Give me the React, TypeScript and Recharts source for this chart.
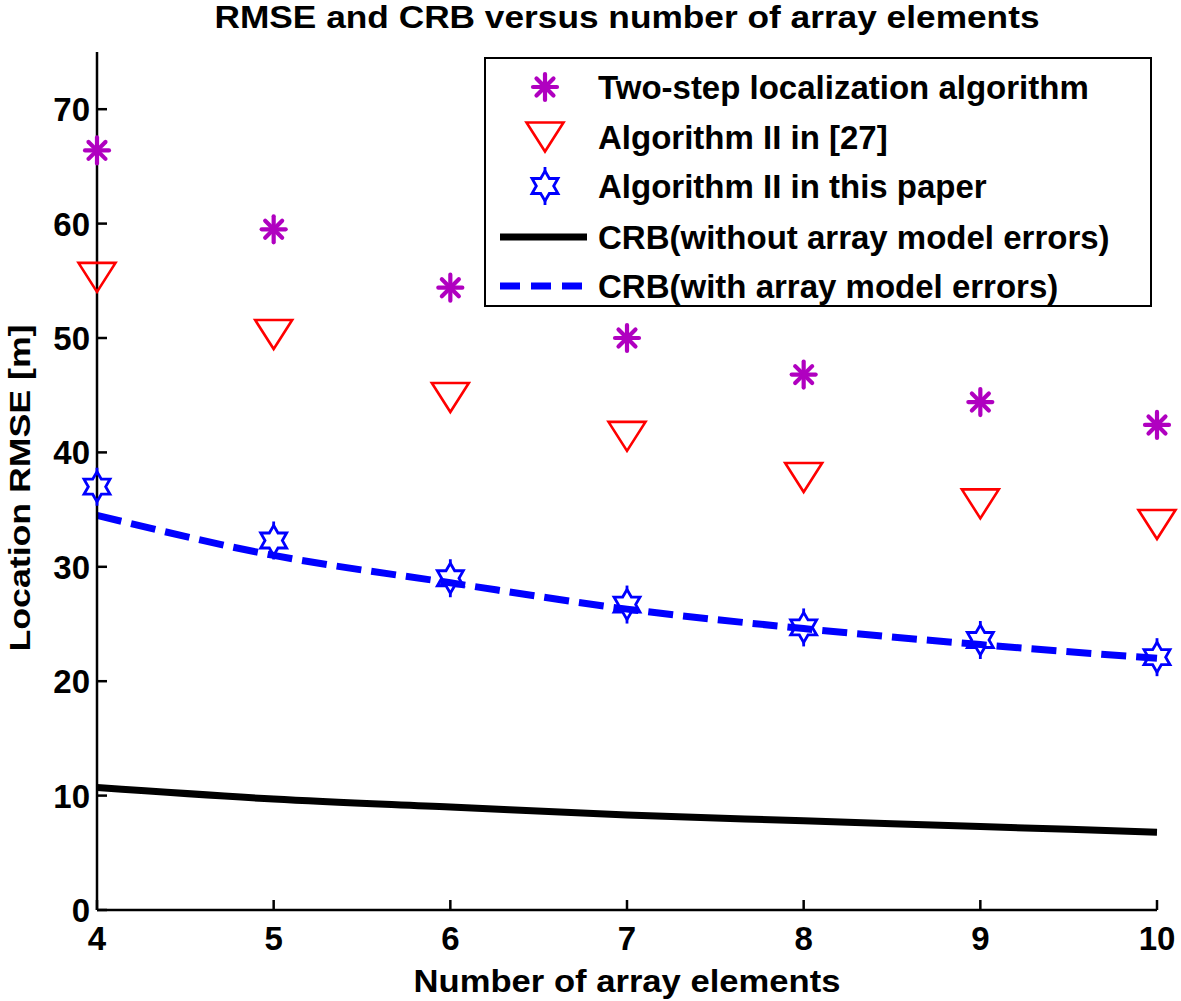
import React from "react";
import { ComposedChart, Legend, Line, XAxis, YAxis } from "recharts";

// number of array elements on the x axis
const elementCounts = [4, 5, 6, 7, 8, 9, 10];

// location RMSE [m] for each method
const twoStepRmse = [66.4, 59.5, 54.4, 50.0, 46.8, 44.4, 42.4];
const ref27Rmse = [55.3, 50.3, 44.8, 41.4, 37.8, 35.5, 33.7];
const paperRmse = [37.0, 32.3, 29.0, 26.7, 24.7, 23.6, 22.1];
const crbNoErrors = [10.7, 9.7, 9.0, 8.3, 7.8, 7.3, 6.8];
const crbWithErrors = [34.5, 31.0, 28.6, 26.3, 24.6, 23.2, 22.0];

const yTicks = [0, 10, 20, 30, 40, 50, 60, 70];

const legendLabels = [
  "Two-step localization algorithm",
  "Algorithm II in [27]",
  "Algorithm II in this paper",
  "CRB(without array model errors)",
  "CRB(with array model errors)",
];

const FONT = "'Liberation Sans', Arial, Helvetica, sans-serif";
const MAGENTA = "#b000c0";
const RED = "#ff0000";
const BLUE = "#0000ff";

const rows = elementCounts.map((n, i) => ({
  n,
  twoStep: twoStepRmse[i],
  ref27: ref27Rmse[i],
  paper: paperRmse[i],
  crbNo: crbNoErrors[i],
  crbErr: crbWithErrors[i],
}));

function Asterisk({ cx, cy, r = 12 }: { cx: number; cy: number; r?: number }) {
  const d = r * 0.7071;
  return (
    <g stroke={MAGENTA} strokeWidth={4.2} strokeLinecap="round">
      <line x1={cx - r} y1={cy} x2={cx + r} y2={cy} />
      <line x1={cx} y1={cy - r - 1} x2={cx} y2={cy + r + 1} />
      <line x1={cx - d} y1={cy - d} x2={cx + d} y2={cy + d} />
      <line x1={cx - d} y1={cy + d} x2={cx + d} y2={cy - d} />
    </g>
  );
}

function DownTriangle({ cx, cy }: { cx: number; cy: number }) {
  const w = 18.5;
  const h = 14.5;
  return (
    <polygon
      points={`${cx - w},${cy - h} ${cx + w},${cy - h} ${cx},${cy + h}`}
      fill="none"
      stroke={RED}
      strokeWidth={2.6}
      strokeLinejoin="miter"
    />
  );
}

function Hexagram({ cx, cy, R = 15 }: { cx: number; cy: number; R?: number }) {
  const pts: string[] = [];
  for (let k = 0; k < 12; k++) {
    const a = ((-90 + 30 * k) * Math.PI) / 180;
    const r = k % 2 === 0 ? R : R / Math.sqrt(3);
    pts.push(`${cx + r * Math.cos(a)},${cy + r * Math.sin(a)}`);
  }
  return (
    <g stroke={BLUE} strokeWidth={2.8}>
      <polygon points={pts.join(" ")} fill="none" />
      <line x1={cx} x2={cx} y1={cy - R - 4} y2={cy - R + 2} />
      <line x1={cx} x2={cx} y1={cy + R - 2} y2={cy + R + 4} />
    </g>
  );
}

const dotRenderer = (Shape: React.ComponentType<any>) => (props: any) => {
  const { cx, cy, index } = props;
  if (cx == null || cy == null) return <g key={index} />;
  return (
    <g key={index}>
      <Shape cx={cx} cy={cy} />
    </g>
  );
};

const tickText = { fontFamily: FONT, fontWeight: 700, fontSize: 33, fill: "#000" };

function BottomTick({ x, y, payload }: any) {
  return (
    <g>
      <line x1={x} x2={x} y1={y} y2={y - 10} stroke="#000" strokeWidth={2.5} />
      <text x={x} y={y + 40} textAnchor="middle" {...tickText}>
        {payload.value}
      </text>
    </g>
  );
}

function TopTick({ x, y }: any) {
  return <line x1={x} x2={x} y1={y} y2={y + 10} stroke="#000" strokeWidth={2.5} />;
}

function LeftTick({ x, y, payload }: any) {
  return (
    <g>
      <line x1={x} x2={x + 10} y1={y} y2={y} stroke="#000" strokeWidth={2.5} />
      <text x={x - 7} y={y + 12} textAnchor="end" {...tickText}>
        {payload.value}
      </text>
    </g>
  );
}

function RightTick({ x, y }: any) {
  return <line x1={x} x2={x - 10} y1={y} y2={y} stroke="#000" strokeWidth={2.5} />;
}

function LegendBox() {
  const rowY = [30, 80, 129, 180, 229];
  const mx = 61;
  return (
    <svg width={668} height={250} style={{ display: "block" }}>
      <rect x={1} y={1} width={666} height={248} fill="#fff" stroke="#000" strokeWidth={2} />
      <Asterisk cx={mx} cy={rowY[0]} />
      <DownTriangle cx={mx} cy={rowY[1]} />
      <Hexagram cx={mx} cy={rowY[2]} />
      <line x1={16} x2={103} y1={rowY[3]} y2={rowY[3]} stroke="#000" strokeWidth={7} />
      <line
        x1={16}
        x2={103}
        y1={rowY[4]}
        y2={rowY[4]}
        stroke={BLUE}
        strokeWidth={7}
        strokeDasharray="20 11"
      />
      {legendLabels.map((label, i) => (
        <text key={label} x={114} y={rowY[i] + 12} {...tickText}>
          {label}
        </text>
      ))}
    </svg>
  );
}

export default function App() {
  return (
    <div style={{ position: "relative", width: 1181, height: 1001, background: "#fff" }}>
      <style>{"body{margin:0}"}</style>
      <ComposedChart
        width={1181}
        height={1001}
        data={rows}
        margin={{ top: 52, right: 24, left: 0, bottom: 0 }}
      >
        <XAxis
          dataKey="n"
          type="number"
          domain={[4, 10]}
          ticks={elementCounts}
          height={91}
          tickSize={0}
          tickMargin={0}
          tickLine={false}
          axisLine={{ stroke: "#000", strokeWidth: 2.5 }}
          tick={<BottomTick />}
        />
        <XAxis
          xAxisId="top"
          orientation="top"
          type="number"
          domain={[4, 10]}
          ticks={elementCounts}
          height={0}
          tickSize={0}
          tickMargin={0}
          tickLine={false}
          axisLine={{ stroke: "#000", strokeWidth: 2.5 }}
          tick={<TopTick />}
        />
        <YAxis
          type="number"
          domain={[0, 75]}
          ticks={yTicks}
          width={97}
          tickSize={0}
          tickMargin={0}
          tickLine={false}
          axisLine={{ stroke: "#000", strokeWidth: 2.5 }}
          tick={<LeftTick />}
        />
        <YAxis
          yAxisId="right"
          orientation="right"
          type="number"
          domain={[0, 75]}
          ticks={yTicks}
          width={0}
          tickSize={0}
          tickMargin={0}
          tickLine={false}
          axisLine={{ stroke: "#000", strokeWidth: 2.5 }}
          tick={<RightTick />}
        />
        <Line
          dataKey="crbNo"
          type="monotone"
          stroke="#000"
          strokeWidth={7}
          dot={false}
          activeDot={false}
          isAnimationActive={false}
        />
        <Line
          dataKey="crbErr"
          type="monotone"
          stroke={BLUE}
          strokeWidth={7}
          strokeDasharray="25 10"
          dot={false}
          activeDot={false}
          isAnimationActive={false}
        />
        <Line
          dataKey="twoStep"
          stroke="none"
          dot={dotRenderer(Asterisk)}
          activeDot={false}
          isAnimationActive={false}
        />
        <Line
          dataKey="ref27"
          stroke="none"
          dot={dotRenderer(DownTriangle)}
          activeDot={false}
          isAnimationActive={false}
        />
        <Line
          dataKey="paper"
          stroke="none"
          dot={dotRenderer(Hexagram)}
          activeDot={false}
          isAnimationActive={false}
        />
        <Legend
          layout="horizontal"
          verticalAlign="middle"
          content={<LegendBox />}
          wrapperStyle={{ left: 484, top: 57, width: 668, height: 250 }}
        />
      </ComposedChart>
      <svg
        width={1181}
        height={1001}
        style={{ position: "absolute", left: 0, top: 0, pointerEvents: "none" }}
      >
        <text
          x={627}
          y={28}
          textAnchor="middle"
          textLength={825}
          lengthAdjust="spacingAndGlyphs"
          {...tickText}
          fontSize={32}
        >
          RMSE and CRB versus number of array elements
        </text>
        <text
          x={627}
          y={992}
          textAnchor="middle"
          textLength={427}
          lengthAdjust="spacingAndGlyphs"
          {...tickText}
          fontSize={32}
        >
          Number of array elements
        </text>
        <text
          x={0}
          y={0}
          textAnchor="middle"
          textLength={327}
          lengthAdjust="spacingAndGlyphs"
          transform="translate(30,488) rotate(-90)"
          {...tickText}
          fontSize={30}
        >
          Location RMSE [m]
        </text>
      </svg>
    </div>
  );
}
